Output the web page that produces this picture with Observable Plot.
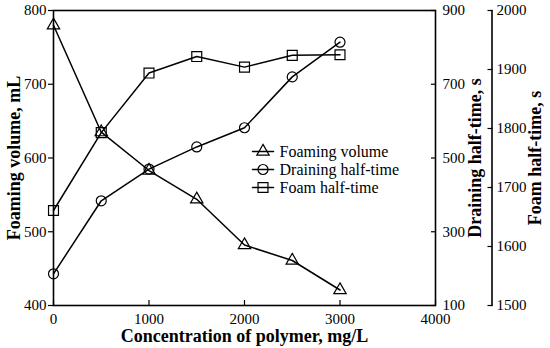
<!DOCTYPE html>
<html><head><meta charset="utf-8">
<script src="https://cdn.jsdelivr.net/npm/d3@7"></script>
<script src="https://cdn.jsdelivr.net/npm/@observablehq/plot@0.6"></script>
<style>body{margin:0;background:#fff} svg{overflow:visible} svg text{font-family:'Liberation Serif','Times New Roman',serif !important;}</style>
</head><body><div id="chart"></div>
<script>
const concentration = [0, 500, 1000, 1500, 2000, 2500, 3000];
const foamingVolume = [780, 635, 583, 544, 482, 461, 421];
const drainingHalfTime = [186, 384, 470, 530, 582, 720, 814];
const foamHalfTime = [1661, 1793, 1894, 1922, 1904, 1924, 1925];
const seriesNames = ["Foaming volume", "Draining half-time", "Foam half-time"];
const seriesSymbols = ["triangle", "circle", "square"];
const xTicks = [0, 1000, 2000, 3000, 4000];
const volumeTicks = [400, 500, 600, 700, 800];
const drainingTicks = [100, 300, 500, 700, 900];
const foamTicks = [1500, 1600, 1700, 1800, 1900, 2000];
const volumeDomain = [400, 800];
const drainingDomain = [100, 900];
const foamDomain = [1500, 2000];

const FONT = "'Liberation Serif', 'Times New Roman', serif";
const symR = {triangle: 4.6, circle: 5, square: 5.6};
const drainToLeft = d3.scaleLinear(drainingDomain, volumeDomain);
const foamToLeft = d3.scaleLinear(foamDomain, volumeDomain);

const rows = [
  ...concentration.map((c, i) => ({x: c, y: foamingVolume[i], s: 0})),
  ...concentration.map((c, i) => ({x: c, y: drainToLeft(drainingHalfTime[i]), s: 1})),
  ...concentration.map((c, i) => ({x: c, y: foamToLeft(foamHalfTime[i]), s: 2}))
];

const lineShape = {draw(context, l) { context.moveTo(0, 0); context.lineTo(0, -l); }};

const seriesMarks = seriesNames.flatMap((name, i) => {
  const d = rows.filter(r => r.s === i);
  return [
    Plot.line(d, {x: "x", y: "y", stroke: "black", strokeWidth: 1.5}),
    Plot.dot(d, {x: "x", y: "y", symbol: seriesSymbols[i], r: symR[seriesSymbols[i]], stroke: "black", strokeWidth: 1.2, fill: "none"})
  ];
});

const legendMarks = seriesNames.flatMap((name, i) => [
  Plot.vector([name], {frameAnchor: "top-left", dx: 199, dy: 141 + i * 18, length: 21, rotate: 90, anchor: "start", shape: lineShape, stroke: "black", strokeWidth: 1.5}),
  Plot.dot([name], {frameAnchor: "top-left", dx: 209.5, dy: 141 + i * 18, symbol: seriesSymbols[i], r: symR[seriesSymbols[i]], stroke: "black", strokeWidth: 1.2, fill: "none"}),
  Plot.text([name], {frameAnchor: "top-left", dx: 226, dy: 141 + i * 18, text: d => d, textAnchor: "start", lineAnchor: "middle", fontSize: 16, fontFamily: FONT, fill: "black"})
]);

const chart = Plot.plot({
  width: 550, height: 348,
  marginLeft: 53, marginRight: 115, marginTop: 10, marginBottom: 43,
  style: {fontFamily: FONT, fontSize: "15px", color: "black", background: "white"},
  x: {domain: [0, 4000]},
  y: {domain: volumeDomain},
  marks: [
    Plot.frame({stroke: "black", strokeWidth: 1.6}),
    Plot.axisX({ticks: xTicks, tickFormat: d => String(d), tickSize: -5, tickPadding: 13, strokeWidth: 1.2, fontSize: 15, fontFamily: FONT, fontVariant: "normal", label: null}),
    Plot.axisY({ticks: volumeTicks, tickFormat: d => String(d), anchor: "left", tickSize: 5, tickPadding: 2, strokeWidth: 1.2, fontSize: 15, fontFamily: FONT, fontVariant: "normal", label: null}),
    Plot.axisY({ticks: drainingTicks.map(drainToLeft), tickFormat: d => String(Math.round(drainToLeft.invert(d))), anchor: "right", tickSize: -5, tickPadding: 12, strokeWidth: 1.2, fontSize: 15, fontFamily: FONT, fontVariant: "normal", label: null}),
    Plot.axisY({ticks: foamTicks.map(foamToLeft), tickFormat: d => String(Math.round(foamToLeft.invert(d))), anchor: "right", dx: 56.5, tickSize: -5, tickPadding: 9.5, strokeWidth: 1.2, fontSize: 15, fontFamily: FONT, fontVariant: "normal", label: null}),
    Plot.vector(["foam-axis"], {frameAnchor: "bottom-right", dx: 56.5, length: 295, rotate: 0, anchor: "start", shape: lineShape, stroke: "black", strokeWidth: 1.6}),
    ...seriesMarks,
    ...legendMarks,
    Plot.text(["Foaming volume, mL"], {frameAnchor: "left", dx: -39, rotate: -90, text: d => d, textAnchor: "middle", lineAnchor: "middle", fontWeight: "bold", fontSize: 18, fontFamily: FONT, fill: "black"}),
    Plot.text(["Concentration of polymer, mg/L"], {frameAnchor: "bottom", dy: 31, text: d => d, textAnchor: "middle", lineAnchor: "middle", fontWeight: "bold", fontSize: 18, fontFamily: FONT, fill: "black"}),
    Plot.text(["Draining half-time, s"], {frameAnchor: "right", dx: 40, rotate: -90, text: d => d, textAnchor: "middle", lineAnchor: "middle", fontWeight: "bold", fontSize: 18, fontFamily: FONT, fill: "black"}),
    Plot.text(["Foam half-time, s"], {frameAnchor: "right", dx: 100, rotate: -90, text: d => d, textAnchor: "middle", lineAnchor: "middle", fontWeight: "bold", fontSize: 18, fontFamily: FONT, fill: "black"})
  ]
});
document.getElementById("chart").append(chart);
</script>
</body></html>
